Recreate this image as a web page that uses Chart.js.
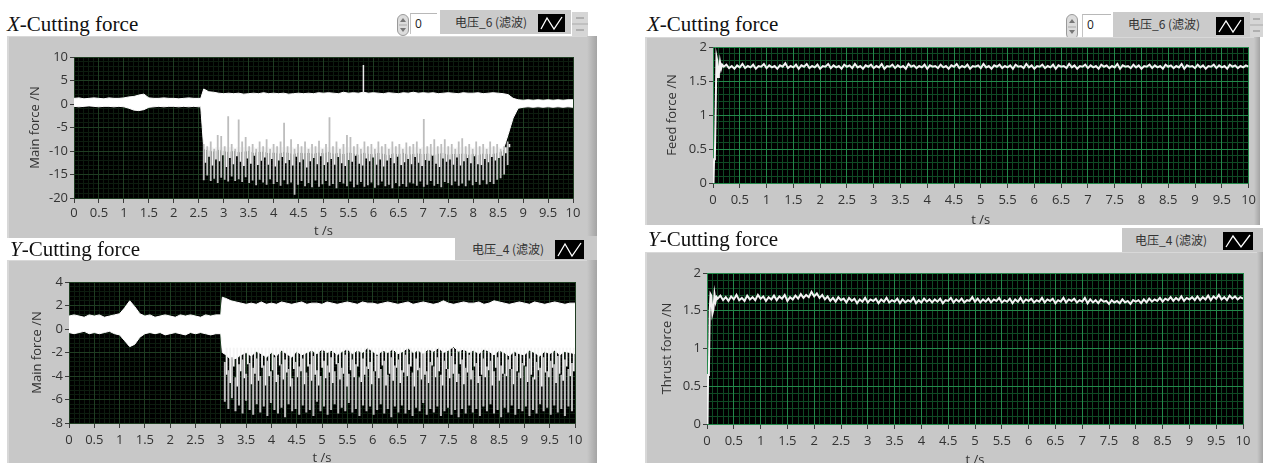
<!DOCTYPE html>
<html><head><meta charset="utf-8">
<script src="https://cdn.jsdelivr.net/npm/chart.js@4.4.1/dist/chart.umd.min.js"></script>
<style>
html,body{margin:0;padding:0;background:#fff;}
body{width:1263px;height:463px;overflow:hidden;position:relative;}
.abs{position:absolute;}
.panel{position:absolute;background:#c8c8c8;box-shadow:inset 2px 1px 0 #d8d8d8;}
.edge{position:absolute;top:0;right:0;bottom:0;width:10px;background:linear-gradient(to right,#c8c8c8,#a4a4a4);}
.title{position:absolute;z-index:5;font-family:"Liberation Serif","Times New Roman",serif;font-size:21px;line-height:22px;color:#111;white-space:nowrap;}
.title i{font-style:italic;}
canvas{position:absolute;}
.leg{position:absolute;background:#cbcbcb;}
.legtxt{position:absolute;font-family:"Noto Sans CJK SC",sans-serif;font-size:12px;line-height:14px;color:#333;white-space:nowrap;}
.num{position:absolute;background:#fff;border-top:1px solid #b8b8b8;border-left:1px solid #c4c4c4;font-family:"Open Sans",sans-serif;font-size:12px;line-height:20px;color:#222;box-sizing:border-box;padding-left:4px;}
</style></head><body>

<div class="title" style="left:7px;top:13px;"><i>X</i>-Cutting force</div>
<svg class="abs" style="left:397px;top:14px" width="12" height="22"><rect x="0.5" y="0.5" width="11" height="21" rx="5.5" fill="#dcdcdc" stroke="#9a9a9a"/><path d="M3,8 L6,4 L9,8Z M3,14 L6,18 L9,14Z" fill="#777"/><line x1="2" y1="11" x2="10" y2="11" stroke="#aaa"/></svg>
<div class="num" style="left:410px;top:13px;width:27px;height:21px;">0</div>
<div class="leg" style="left:440px;top:10px;width:131px;height:24px;"></div>
<div class="legtxt" style="left:455px;top:15px;">电压_6 (滤波)</div>
<svg class="abs" style="left:538px;top:14px" width="27" height="18"><rect width="27" height="18" fill="#000"/><polyline points="3,15 9,4 16,15 24,3" fill="none" stroke="#fff" stroke-width="1.3"/></svg>
<svg class="abs" style="left:572px;top:12px" width="16" height="24"><rect width="16" height="24" fill="#d6d6d6"/><line x1="4" y1="6" x2="12" y2="6" stroke="#888"/><line x1="4" y1="18" x2="12" y2="18" stroke="#888"/><line x1="0" y1="12" x2="16" y2="12" stroke="#aaa"/></svg>
<div class="panel" style="left:7px;top:36px;width:590px;height:202px;"><div class="edge"></div></div>
<canvas id="cA" width="590" height="203" style="left:7px;top:36px;"></canvas>

<div class="title" style="left:10px;top:238px;"><i>Y</i>-Cutting force</div>
<div class="leg" style="left:455px;top:236px;width:142px;height:26px;background:#c8c8c8;"></div>
<div class="legtxt" style="left:472px;top:242px;">电压_4 (滤波)</div>
<svg class="abs" style="left:555px;top:240px" width="29" height="19"><rect width="29" height="19" fill="#000"/><polyline points="3,16 10,4 17,16 26,3" fill="none" stroke="#fff" stroke-width="1.3"/></svg>
<div class="panel" style="left:7px;top:260px;width:590px;height:203px;"><div class="edge"></div></div>
<canvas id="cC" width="590" height="206" style="left:7px;top:260px;"></canvas>

<div class="title" style="left:647px;top:13px;"><i>X</i>-Cutting force</div>
<svg class="abs" style="left:1066px;top:14px" width="12" height="26"><rect x="0.5" y="0.5" width="11" height="25" rx="5.5" fill="#dcdcdc" stroke="#9a9a9a"/><path d="M3,9 L6,5 L9,9Z M3,16 L6,20 L9,16Z" fill="#777"/><line x1="2" y1="13" x2="10" y2="13" stroke="#aaa"/></svg>
<div class="num" style="left:1082px;top:14px;width:29px;height:23px;">0</div>
<div class="leg" style="left:1113px;top:12px;width:137px;height:25px;"></div>
<div class="legtxt" style="left:1128px;top:17px;">电压_6 (滤波)</div>
<svg class="abs" style="left:1216px;top:17px" width="28" height="18"><rect width="28" height="18" fill="#000"/><polyline points="3,15 10,4 17,15 25,3" fill="none" stroke="#fff" stroke-width="1.3"/></svg>
<svg class="abs" style="left:1250px;top:13px" width="13" height="24"><rect width="13" height="24" fill="#d6d6d6"/><line x1="3" y1="6" x2="10" y2="6" stroke="#888"/><line x1="3" y1="18" x2="10" y2="18" stroke="#888"/><line x1="0" y1="12" x2="13" y2="12" stroke="#aaa"/></svg>
<div class="panel" style="left:645px;top:37px;width:615px;height:188px;"><div class="edge" style="width:6px"></div></div>
<canvas id="cB" width="615" height="191" style="left:645px;top:37px;"></canvas>

<div class="title" style="left:648px;top:228px;"><i>Y</i>-Cutting force</div>
<div class="leg" style="left:1122px;top:228px;width:141px;height:26px;background:#c8c8c8;"></div>
<div class="legtxt" style="left:1135px;top:233px;">电压_4 (滤波)</div>
<svg class="abs" style="left:1223px;top:232px" width="30" height="18"><rect width="30" height="18" fill="#000"/><polyline points="3,15 10,4 18,15 27,3" fill="none" stroke="#fff" stroke-width="1.3"/></svg>
<div class="panel" style="left:645px;top:252px;width:618px;height:211px;"><div class="edge" style="width:6px"></div></div>
<canvas id="cD" width="615" height="216" style="left:645px;top:252px;"></canvas>

<script>
// ---------- data ----------
// X main force (top-left): white band edges at 0.1 s steps, 0..10 s
const xMainUpper = [1.2,1.3,1.1,1.2,1.3,1.2,1.1,1.3,1.2,1.2,1.3,
  1.5,1.6,1.9,2.1,
  1.3,1.2,1.2,1.3,1.2,1.2,1.1,1.2,1.3,1.2,1.2,
  3.2,2.6,2.5,2.3,
  2.2,2.3,2.2,2.3,2.1,2.2,2.3,2.2,2.4,2.2,
  2.3,2.2,2.3,2.1,2.2,2.3,2.2,2.3,2.2,2.4,
  2.3,2.4,2.3,2.2,2.5,2.3,2.4,2.3,2.5,2.3,
  2.4,2.3,2.2,2.4,2.3,2.2,2.4,2.3,2.5,2.3,
  2.4,2.3,2.4,2.2,2.3,2.4,2.3,2.2,2.4,2.3,
  2.3,2.4,2.2,2.3,2.4,2.3,2.2,2.0,1.2,0.9,
  0.8,0.9,0.8,0.9,0.8,0.9,0.8,0.9,0.8,0.9,0.9];
const xMainLower = [-0.5,-0.6,-0.5,-0.4,-0.5,-0.6,-0.5,-0.5,-0.6,-0.5,-0.6,
  -0.9,-1.3,-1.4,-1.2,
  -0.7,-0.6,-0.5,-0.6,-0.5,-0.5,-0.6,-0.5,-0.6,-0.5,-0.6,
  -9.5,-9.8,-10,-9.7,
  -9.9,-10.1,-9.8,-10.2,-10,-9.9,-10.3,-10.1,-10,-10.4,
  -10.2,-10.5,-10.1,-10.3,-10.6,-10.2,-10.4,-10.3,-10.5,-10.2,
  -10.4,-10.1,-10.5,-10.3,-10.6,-10.2,-10.4,-10.7,-10.3,-10.5,
  -10.6,-10.3,-10.5,-10.8,-10.4,-10.6,-10.3,-10.7,-10.5,-10.4,
  -10.6,-10.4,-10.8,-10.5,-10.3,-10.7,-10.5,-10.6,-10.4,-10.7,
  -10.5,-10.8,-10.4,-10.6,-10.5,-10.3,-9.8,-6.5,-3,-0.9,
  -0.7,-0.6,-0.7,-0.6,-0.7,-0.6,-0.7,-0.6,-0.7,-0.6,-0.7];
// the step where cutting starts (extra band point just before the jump)
const xMainJumpT = [2.54], xMainJumpUpper = [1.2], xMainJumpLower = [-0.6];
// grey cutting spikes, one every 0.07 s from 2.6 s
const xMainSpikeTop = [-8.5,-9,-8,-9.5,-6.6,-6.8,-9,-2.6,-8.5,-9.5,
  -3.3,-8,-7,-9,-8.5,-9.5,-8,-9,-7.5,-9.5,
  -8.5,-9,-8,-4,-9,-7.5,-9.5,-8.5,-9,-8,
  -9.5,-8.5,-9,-7.8,-9.5,-8.5,-2.8,-9,-8,-9.5,
  -8.5,-6.6,-7,-9,-8.5,-9.5,-8,-9,-8.5,-9.5,
  -8,-9,-8.5,-9.5,-8,-9,-8.5,-9.5,-8.2,-9,
  -8.5,-8,-9.5,-3.2,-9,-8.5,-7.5,-9,-8.5,-7.5,
  -9,-8.5,-9.5,-8,-7.3,-9,-8.5,-9.5,-8,-9,
  -8.5,-9.5,-8,-9,-8.5,-9.5,-9,-8];
const xMainSpikeBottom = [-16.2,-15.2,-16.4,-15.9,-16.8,-15.7,-16.1,-16.5,-15.4,-16.4,
  -16,-16.6,-15.6,-16.8,-16.3,-17.3,-16.1,-16.7,-17.2,-16.0,
  -17,-16.6,-17.4,-16.2,-17.1,-16.7,-19.3,-17.2,-16.4,-17.5,
  -16.8,-17.7,-16.3,-17.6,-17.1,-16.4,-17.4,-17,-17.9,-16.6,
  -16.9,-17.5,-16.5,-17.7,-17.2,-16.6,-17.6,-17.3,-16.7,-17.8,
  -17.3,-16.5,-17.5,-17.2,-17.9,-16.8,-17.5,-17,-17.6,-16.7,
  -16.9,-17.4,-16.5,-17.6,-17.2,-16.4,-17.4,-17,-17.7,-16.6,
  -16.8,-17.3,-16.5,-17.4,-16.9,-17.5,-16.3,-17.3,-16.6,-17.2,
  -16.2,-17.1,-16.6,-17,-16.1,-15.8,-15,-13];
// white drips hanging below the solid band (offset half a spike step)
const xMainDripBottom = [-12.5,-11.2,-13.1,-11.8,-12.2,-10.9,-13.4,-11.5,-12.8,-11.1,
  -12.3,-13.2,-11.6,-12.7,-11.0,-13.0,-12.1,-11.4,-12.9,-11.7,
  -13.3,-12.0,-11.3,-12.6,-11.9,-13.1,-11.2,-12.4,-11.8,-13.5,
  -12.2,-11.5,-12.8,-11.1,-13.0,-12.4,-11.7,-12.9,-11.3,-12.6,
  -13.2,-11.9,-12.3,-11.0,-12.7,-13.1,-11.6,-12.2,-11.4,-12.9,
  -11.8,-13.3,-12.0,-11.5,-12.6,-11.2,-13.0,-12.4,-11.7,-12.8,
  -11.3,-12.5,-13.2,-11.9,-12.1,-11.0,-12.7,-13.4,-11.6,-12.3,
  -11.8,-12.9,-11.4,-13.1,-12.2,-11.5,-12.6,-11.1,-12.8,-13.0,
  -11.7,-12.4,-11.3,-12.0,-11.5,-11.0,-10.5,-8.5];
const xMainPeakT = [5.8];
const xMainPeakTop = [8.3];

// Y main force (bottom-left)
const yMainUpper = [1.1,1.2,1.1,1.0,1.2,1.1,1.2,1.0,1.1,1.2,1.3,
  1.8,2.4,1.9,1.3,
  1.1,1.2,1.0,1.1,1.2,1.1,1.0,1.2,1.1,1.2,1.1,1.0,1.2,1.1,1.2,
  1.2,2.6,2.4,2.3,2.2,2.1,2.2,2.1,2.3,2.1,
  2.2,2.1,2.3,2.2,2.1,2.2,2.3,2.1,2.2,2.2,
  2.1,2.3,2.2,2.1,2.2,2.3,2.2,2.1,2.3,2.2,
  2.2,2.1,2.2,2.3,2.2,2.1,2.2,2.3,2.1,2.2,
  2.3,2.2,2.1,2.2,2.4,2.2,2.1,2.2,2.3,2.2,
  2.2,2.3,2.1,2.2,2.4,2.3,2.2,2.1,2.2,2.3,
  2.2,2.1,2.3,2.2,2.1,2.2,2.3,2.2,2.1,2.2,2.2];
const yMainLower = [-0.3,-0.4,-0.3,-0.2,-0.4,-0.3,-0.4,-0.3,-0.2,-0.4,-0.5,
  -1.0,-1.5,-1.3,-0.7,
  -0.4,-0.3,-0.4,-0.3,-0.5,-0.4,-0.3,-0.4,-0.5,-0.3,-0.4,-0.3,-0.4,-0.5,-0.4,
  -0.4,-2.2,-2.6,-2.5,-2.2,-2.0,-2.3,-1.9,-2.1,-2.4,
  -2.0,-2.3,-1.8,-2.1,-2.4,-1.9,-2.2,-2.0,-1.8,-2.1,
  -1.7,-2.0,-1.8,-2.2,-1.9,-1.7,-2.1,-1.8,-2.0,-1.6,
  -1.9,-2.2,-1.8,-2.0,-1.7,-2.1,-1.9,-1.6,-2.0,-1.8,
  -2.1,-1.7,-1.9,-1.6,-2.0,-1.8,-1.5,-1.9,-1.7,-2.0,
  -1.8,-2.1,-1.7,-1.9,-2.2,-1.8,-2.0,-2.3,-1.9,-2.1,
  -2.2,-1.8,-2.0,-2.3,-1.9,-2.1,-1.8,-2.2,-1.9,-2.0,-2.1];
const yMainJumpT = [3.03], yMainJumpUpper = [2.7], yMainJumpLower = [-2.0];
// spikes every 0.07 s from 3.08 s
const yMainSpikeTop = [-2.8,-3.5,-2.4,-4.1,-3.0,-2.6,-3.8,-2.9,-3.3,-2.5,
  -4.0,-3.1,-2.7,-3.6,-2.4,-3.9,-3.0,-2.6,-3.4,-4.2,
  -2.8,-3.2,-2.5,-3.7,-3.0,-2.3,-3.5,-4.0,-2.7,-3.1,
  -2.4,-3.6,-2.9,-3.3,-2.2,-3.8,-2.6,-3.0,-4.1,-2.5,
  -3.2,-2.8,-3.6,-2.3,-3.4,-2.7,-3.9,-2.4,-3.1,-2.6,
  -3.5,-2.2,-3.0,-3.7,-2.5,-3.3,-2.1,-3.6,-2.8,-3.2,
  -2.4,-3.9,-2.7,-3.4,-2.3,-3.0,-3.8,-2.6,-3.3,-2.2,
  -3.5,-2.9,-4.0,-2.5,-3.2,-2.7,-3.6,-2.4,-3.1,-3.8,
  -2.6,-3.4,-2.3,-3.7,-2.9,-3.2,-2.5,-4.1,-2.8,-3.3,
  -2.4,-3.6,-2.7,-3.0,-2.3,-3.9,-2.6,-3.4,-2.9];
const yMainSpikeBottom = [-6.2,-6.8,-5.9,-7.0,-6.5,-7.2,-6.1,-6.9,-7.3,-6.4,
  -7.1,-6.6,-7.4,-6.3,-6.9,-7.2,-6.7,-7.5,-6.4,-7.0,
  -6.8,-7.3,-6.5,-7.1,-6.9,-7.4,-6.2,-7.0,-6.6,-7.3,
  -6.9,-6.4,-7.2,-6.7,-7.0,-6.3,-7.1,-6.8,-7.4,-6.5,
  -7.0,-6.6,-7.3,-6.9,-6.4,-7.2,-6.8,-7.5,-6.6,-7.1,
  -6.5,-7.2,-6.9,-7.4,-6.7,-7.0,-6.3,-7.3,-6.8,-7.1,
  -6.6,-7.4,-7.0,-6.7,-7.3,-6.9,-7.5,-6.8,-7.2,-6.5,
  -7.1,-6.8,-7.4,-6.6,-7.0,-6.4,-7.2,-6.9,-7.5,-6.7,
  -7.1,-6.5,-7.3,-6.8,-7.0,-6.6,-7.4,-6.9,-7.2,-6.4,
  -7.0,-6.7,-7.3,-6.5,-7.1,-6.8,-7.4,-6.6,-7.0];
const yMainDripBottom = [-3.9,-4.6,-3.2,-4.9,-3.6,-4.2,-3.0,-4.7,-3.8,-4.4,
  -3.3,-4.8,-4.0,-3.5,-4.5,-3.1,-4.3,-3.7,-4.9,-3.4,
  -4.1,-3.6,-4.7,-3.2,-4.4,-3.9,-4.8,-3.3,-4.2,-3.7,
  -4.6,-3.0,-4.3,-3.8,-4.9,-3.5,-4.1,-3.2,-4.5,-3.9,
  -3.4,-4.7,-3.6,-4.2,-3.1,-4.8,-3.8,-4.4,-3.3,-4.6,
  -3.7,-4.0,-3.2,-4.9,-3.5,-4.3,-3.9,-4.6,-3.1,-4.1,
  -3.6,-4.8,-3.4,-4.2,-3.8,-4.5,-3.0,-4.7,-3.7,-4.3,
  -3.2,-4.6,-3.9,-4.1,-3.5,-4.8,-3.3,-4.4,-3.8,-4.0,
  -3.4,-4.7,-3.6,-4.2,-3.1,-4.5,-3.9,-4.3,-3.5,-4.9,
  -3.7,-4.1,-3.3,-4.6,-3.8,-4.4,-3.2,-4.0,-3.6];

// Feed force (top-right): start-up transient, then every 0.05 s from 0.2 s
const feedStartT = [0,0.01,0.02,0.035,0.05,0.065,0.08,0.095,0.11,0.13,0.15,0.17];
const feedStartV = [0,0.02,0.35,0.38,1.1,1.86,1.8,1.56,1.6,1.78,1.68,1.74];
const feedSteady = [1.71,1.74,1.69,1.72,1.68,1.73,1.70,1.75,1.69,1.72,1.70,1.74,1.68,1.72,1.71,1.75,1.69,1.73,1.70,1.72,
  1.68,1.73,1.71,1.76,1.69,1.72,1.70,1.74,1.68,1.73,1.71,1.75,1.69,1.72,1.70,1.74,1.68,1.72,1.71,1.75,
  1.69,1.73,1.70,1.72,1.68,1.74,1.71,1.73,1.69,1.75,1.70,1.72,1.68,1.73,1.71,1.74,1.69,1.72,1.70,1.75,
  1.68,1.72,1.71,1.74,1.69,1.73,1.70,1.72,1.68,1.75,1.71,1.73,1.69,1.72,1.70,1.74,1.68,1.73,1.71,1.72,
  1.69,1.74,1.70,1.72,1.68,1.73,1.71,1.75,1.69,1.72,1.70,1.74,1.68,1.72,1.71,1.73,1.69,1.75,1.70,1.72,
  1.68,1.73,1.71,1.74,1.69,1.72,1.70,1.73,1.68,1.74,1.71,1.72,1.69,1.75,1.70,1.73,1.68,1.72,1.71,1.74,
  1.69,1.72,1.70,1.74,1.68,1.73,1.71,1.72,1.69,1.75,1.70,1.73,1.68,1.72,1.71,1.74,1.69,1.73,1.70,1.72,
  1.68,1.74,1.71,1.73,1.69,1.72,1.70,1.75,1.68,1.73,1.71,1.72,1.69,1.74,1.70,1.73,1.68,1.72,1.71,1.74,
  1.69,1.73,1.70,1.72,1.68,1.74,1.71,1.73,1.69,1.72,1.70,1.75,1.68,1.73,1.71,1.72,1.69,1.74,1.70,1.73,
  1.68,1.72,1.71,1.74,1.69,1.73,1.70,1.72,1.68,1.74,1.71,1.73,1.69,1.72,1.70,1.73,1.71];

// Thrust force (bottom-right)
const thrustStartT = [0,0.01,0.02,0.035,0.05,0.065,0.08,0.1,0.12,0.14,0.16,0.18];
const thrustStartV = [0,0.02,0.65,0.66,1.48,1.72,1.7,1.46,1.52,1.72,1.62,1.68];
const thrustSteady = [1.66,1.70,1.64,1.68,1.63,1.69,1.65,1.71,1.64,1.67,1.63,1.70,1.65,1.68,1.64,1.71,1.66,1.69,1.63,1.68,
  1.65,1.70,1.64,1.69,1.66,1.71,1.63,1.68,1.65,1.70,1.66,1.72,1.67,1.71,1.68,1.75,1.69,1.73,1.67,1.71,
  1.65,1.69,1.63,1.67,1.62,1.68,1.64,1.66,1.61,1.67,1.63,1.66,1.60,1.65,1.62,1.67,1.61,1.65,1.63,1.66,
  1.60,1.65,1.62,1.67,1.61,1.64,1.62,1.66,1.60,1.65,1.61,1.64,1.62,1.67,1.60,1.64,1.61,1.66,1.62,1.65,
  1.61,1.65,1.62,1.66,1.60,1.64,1.63,1.67,1.61,1.65,1.62,1.66,1.61,1.64,1.63,1.68,1.62,1.66,1.61,1.65,
  1.62,1.66,1.61,1.65,1.63,1.67,1.61,1.64,1.62,1.66,1.60,1.65,1.62,1.67,1.61,1.65,1.63,1.66,1.61,1.64,
  1.62,1.67,1.61,1.65,1.63,1.66,1.60,1.64,1.62,1.67,1.61,1.65,1.63,1.66,1.61,1.64,1.62,1.67,1.60,1.65,
  1.61,1.64,1.60,1.65,1.62,1.63,1.59,1.64,1.61,1.63,1.60,1.65,1.61,1.63,1.59,1.64,1.62,1.64,1.60,1.65,
  1.61,1.66,1.62,1.65,1.63,1.67,1.62,1.66,1.64,1.68,1.63,1.67,1.64,1.69,1.63,1.67,1.65,1.68,1.64,1.69,
  1.64,1.68,1.65,1.70,1.64,1.69,1.66,1.71,1.65,1.68,1.64,1.70,1.66,1.69,1.65,1.68,1.66];

// ---------- helpers ----------
function gridPts(arr, t0, dt){ return arr.map((v,i)=>({x:+(t0+i*dt).toFixed(3), y:v})); }
function withExtra(pts, ts, vs){ return pts.concat(ts.map((t,i)=>({x:t,y:vs[i]}))).sort((a,b)=>a.x-b.x); }
function vLines(t0, dt, tops, bottoms){
  const out=[];
  bottoms.forEach((b,i)=>{ const x=+(t0+i*dt).toFixed(3); const tp = Array.isArray(tops)? tops[i] : tops; out.push({x,y:b},{x,y:tp},{x,y:null}); });
  return out;
}
function pairPts(ts, vs){ return ts.map((t,i)=>({x:t,y:vs[i]})); }
function peakPts(ts, tops, base){ const out=[]; ts.forEach((t,i)=>{ out.push({x:t,y:base},{x:t,y:tops[i]},{x:t,y:null}); }); return out; }

const plotBg = { id:'plotBg', beforeDraw(chart){ const {ctx, chartArea:a} = chart; ctx.save(); ctx.fillStyle='#000'; ctx.fillRect(a.left,a.top,a.right-a.left,a.bottom-a.top); ctx.restore(); } };
const isMaj = (v,s) => Math.abs(v/s - Math.round(v/s)) < 1e-6;
const FONT = {family:"'Open Sans', sans-serif", size:13};
const fmt = v => String(Math.round(v*100)/100);

function makeChart(id, c){
  return new Chart(document.getElementById(id), {
    type:'line',
    data:{datasets:c.datasets},
    options:{
      responsive:false, animation:false, events:[],
      layout:{padding:{top:c.padTop,right:c.padRight,left:0,bottom:0}},
      plugins:{legend:{display:false}, tooltip:{enabled:false}},
      scales:{
        x:{type:'linear',min:0,max:10,position:'bottom',offset:false,
          ticks:{stepSize:0.5,autoSkip:false,maxRotation:0,color:'#333',font:FONT,padding:c.xTickPad,callback:fmt},
          grid:{color:c.major,tickColor:'#3c3c3c',tickLength:5,offset:false,z:-1},
          border:{display:false},
          title:{display:true,text:'t /s',color:'#333',font:FONT,padding:{top:0,bottom:0}},
          afterFit:s=>{s.height=c.xHeight;}},
        y:{type:'linear',min:c.yMin,max:c.yMax,position:'left',
          ticks:{stepSize:c.yStep,color:'#333',font:FONT,padding:2,callback:fmt},
          grid:{color:c.major,tickColor:'#3c3c3c',tickLength:4,z:-1},
          border:{display:false},
          title:{display:true,text:c.yTitle,color:'#333',font:FONT,padding:{top:c.yTitlePad,bottom:0}},
          afterFit:s=>{s.width=c.yWidth;}},
        xm:{type:'linear',min:0,max:10,position:'bottom',offset:false,
          ticks:{display:false,stepSize:0.1},
          grid:{color:ctx=>isMaj(ctx.tick.value,0.5)?'rgba(0,0,0,0)':c.minor,drawTicks:false,z:-2},
          border:{display:false}, afterFit:s=>{s.height=0;}},
        ym:{type:'linear',min:c.yMin,max:c.yMax,position:'left',
          ticks:{display:false,stepSize:c.yMinor},
          grid:{color:ctx=>isMaj(ctx.tick.value,c.yStep)?'rgba(0,0,0,0)':c.minor,drawTicks:false,z:-2},
          border:{display:false}, afterFit:s=>{s.width=0;}}
      }
    },
    plugins:[plotBg]
  });
}

const common = {pointRadius:0,spanGaps:false,fill:false,xAxisID:'x',yAxisID:'y'};

makeChart('cA', {
  datasets: [
    Object.assign({data:peakPts(xMainPeakT, xMainPeakTop, 2.3),borderColor:'#e8e8e8',borderWidth:1.5}, common),
    Object.assign({data:vLines(2.6,0.07,xMainSpikeTop,xMainSpikeBottom),borderColor:'#bdbdbd',borderWidth:1.8}, common),
    Object.assign({data:vLines(2.635,0.07,-9.2,xMainDripBottom),borderColor:'#f4f4f4',borderWidth:1.8}, common),
    Object.assign({}, common, {data:withExtra(gridPts(xMainUpper,0,0.1),xMainJumpT,xMainJumpUpper),borderColor:'#fff',borderWidth:1,backgroundColor:'#fff',fill:'+1'}),
    Object.assign({data:withExtra(gridPts(xMainLower,0,0.1),xMainJumpT,xMainJumpLower),borderColor:'#fff',borderWidth:1}, common)
  ],
  yMin:-20, yMax:10, yStep:5, yMinor:1, yTitle:'Main force /N',
  padTop:21, padRight:24, yWidth:67, xHeight:41, xTickPad:2, yTitlePad:20,
  major:'#1f3d22', minor:'#0d1c0f'
});

makeChart('cC', {
  datasets: [
    Object.assign({data:vLines(3.08,0.07,yMainSpikeTop,yMainSpikeBottom),borderColor:'#bdbdbd',borderWidth:2}, common),
    Object.assign({data:vLines(3.115,0.07,-1.6,yMainDripBottom),borderColor:'#f4f4f4',borderWidth:1.8}, common),
    Object.assign({}, common, {data:withExtra(gridPts(yMainUpper,0,0.1),yMainJumpT,yMainJumpUpper),borderColor:'#fff',borderWidth:1,backgroundColor:'#fff',fill:'+1'}),
    Object.assign({data:withExtra(gridPts(yMainLower,0,0.1),yMainJumpT,yMainJumpLower),borderColor:'#fff',borderWidth:1}, common)
  ],
  yMin:-8, yMax:4, yStep:2, yMinor:0.4, yTitle:'Main force /N',
  padTop:22, padRight:22, yWidth:62, xHeight:43, xTickPad:4, yTitlePad:22,
  major:'#1f3d22', minor:'#0d1c0f'
});

makeChart('cB', {
  datasets:[Object.assign({data:pairPts(feedStartT,feedStartV).concat(gridPts(feedSteady,0.2,0.05)),borderColor:'#f2f2f2',borderWidth:2,tension:0}, common)],
  yMin:0, yMax:2, yStep:0.5, yMinor:0.1, yTitle:'Feed force /N',
  padTop:10, padRight:8, yWidth:68, xHeight:45, xTickPad:4, yTitlePad:19,
  major:'#23884a', minor:'#0f4a24'
});

makeChart('cD', {
  datasets:[Object.assign({data:pairPts(thrustStartT,thrustStartV).concat(gridPts(thrustSteady,0.2,0.05)),borderColor:'#f2f2f2',borderWidth:2,tension:0}, common)],
  yMin:0, yMax:2, yStep:0.5, yMinor:0.1, yTitle:'Thrust force /N',
  padTop:21, padRight:17, yWidth:62, xHeight:44, xTickPad:4, yTitlePad:14,
  major:'#23884a', minor:'#0f4a24'
});
</script>
</body></html>
